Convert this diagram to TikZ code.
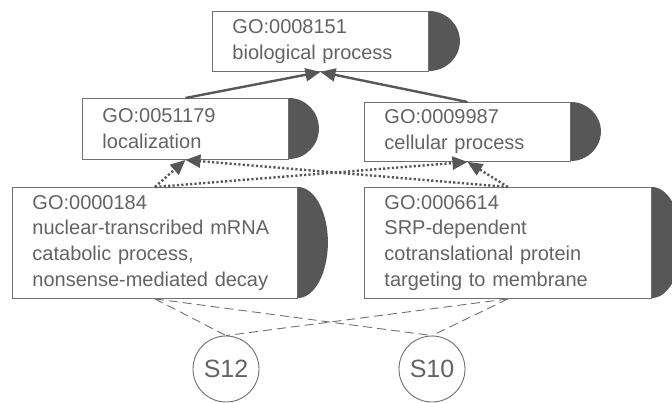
\documentclass[tikz,border=0pt]{standalone}
\usepackage{fontspec}
\setmainfont{Liberation Sans}
\usetikzlibrary{arrows.meta}
\definecolor{ink}{HTML}{636363}
\definecolor{frame}{HTML}{707070}
\definecolor{capfill}{HTML}{575757}

\begin{document}
\begin{tikzpicture}[x=1pt,y=-1pt,
  gobox/.style={draw=frame, line width=0.9pt, fill=white, anchor=north west,
    align=left, inner xsep=20pt, inner ysep=0pt, text=ink,
    font=\fontsize{20}{25.8}\selectfont},
  sample/.style={circle, draw=frame, line width=0.9pt, minimum size=66pt,
    inner sep=0pt, text=ink, font=\fontsize{25}{30}\selectfont},
  isa/.style={draw=capfill, line width=2.4pt,
    -{Triangle[length=15pt,width=13pt]}},
  partof/.style={draw=capfill, line width=2.4pt, dash pattern=on 2.2pt off 2.2pt,
    -{Triangle[length=15pt,width=13pt]}},
  annot/.style={draw=frame, line width=0.9pt, dash pattern=on 9pt off 5pt}
]
\useasboundingbox (0,0) rectangle (672,402);
\clip (0,0) rectangle (672,402);

% GO term boxes, each with a filled half-ellipse cap on the right
\node[gobox, minimum width=216pt, minimum height=60pt, text width=176pt]
  (bio) at (212,11) {GO:0008151\\biological process};
\fill[capfill] (bio.north east) arc[start angle=90, end angle=-90,
  x radius=31pt, y radius=30pt] -- cycle;

\node[gobox, minimum width=206pt, minimum height=61pt, text width=166pt]
  (loc) at (82,98) {GO:0051179\\localization};
\fill[capfill] (loc.north east) arc[start angle=90, end angle=-90,
  x radius=30pt, y radius=30.5pt] -- cycle;

\node[gobox, minimum width=206pt, minimum height=59pt, text width=166pt]
  (cell) at (364,102) {GO:0009987\\cellular process};
\fill[capfill] (cell.north east) arc[start angle=90, end angle=-90,
  x radius=30pt, y radius=29.5pt] -- cycle;

\node[gobox, minimum width=285pt, minimum height=111pt, text width=245pt]
  (nmd) at (12,187) {GO:0000184\\nuclear-transcribed mRNA\\catabolic process,\\nonsense-mediated decay};
\fill[capfill] (nmd.north east) arc[start angle=90, end angle=-90,
  x radius=30pt, y radius=55.5pt] -- cycle;

\node[gobox, minimum width=287pt, minimum height=111pt, text width=247pt]
  (srp) at (364,187) {GO:0006614\\SRP-dependent\\cotranslational protein\\targeting to membrane};
\fill[capfill] (srp.north east) arc[start angle=90, end angle=-90,
  x radius=30pt, y radius=55.5pt] -- cycle;

% samples
\node[sample] (s12) at (226,369) {S12};
\node[sample] (s10) at (432,369) {S10};

% is-a relations
\draw[isa] (loc.north) -- (bio.south);
\draw[isa] (cell.north) -- (bio.south);

% dotted relations
\draw[partof] (nmd.north) -- (loc.south);
\draw[partof] (nmd.north) -- (cell.south);
\draw[partof] (srp.north) -- (loc.south);
\draw[partof] (srp.north) -- (cell.south);

% sample annotations
\draw[annot] (nmd.south) -- (s12.north);
\draw[annot] (nmd.south) -- (s10.north);
\draw[annot] (srp.south) -- (s12.north);
\draw[annot] (srp.south) -- (s10.north);
\end{tikzpicture}
\end{document}
